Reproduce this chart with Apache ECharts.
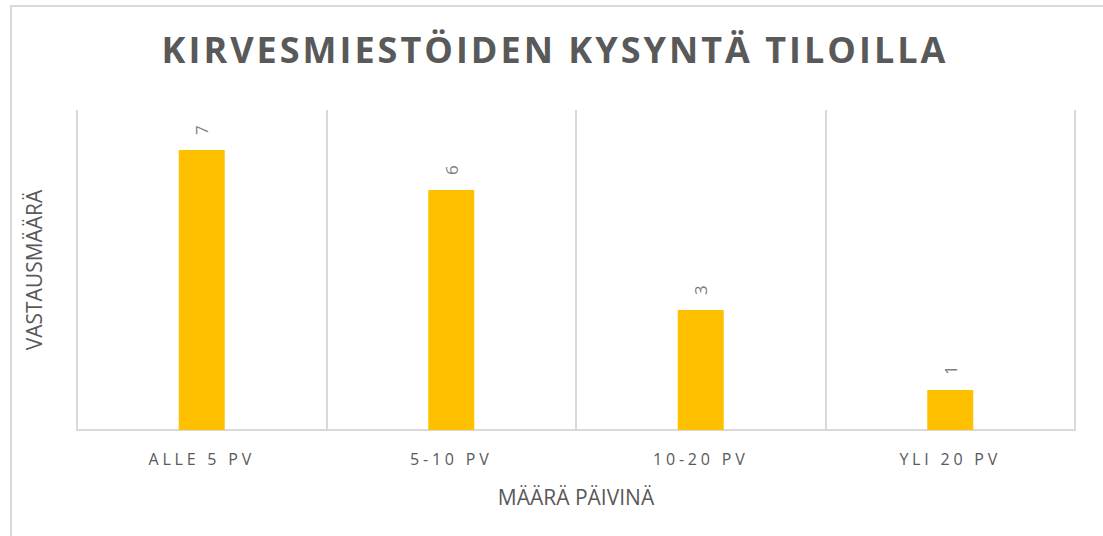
<!DOCTYPE html>
<html>
<head>
<meta charset="utf-8">
<style>
  html, body { margin: 0; padding: 0; background: #fff; }
  #frame {
    position: absolute; left: 10px; top: 5px; width: 1100px; height: 540px;
    border-left: 2px solid #d9d9d9; border-top: 2px solid #d9d9d9;
  }
  #chart { position: absolute; left: 0; top: 0; width: 1103px; height: 536px; }
  /* spaced caps for the title and category labels */
  #chart text[style*="bold"] { letter-spacing: 3px; }
  #chart text[style*="16px"] { letter-spacing: 3.8px; }
</style>
<script src="https://cdn.jsdelivr.net/npm/echarts@6/dist/echarts.min.js"></script>
</head>
<body>
<div id="frame"></div>
<div id="chart"></div>
<script>
const title = "KIRVESMIESTÖIDEN KYSYNTÄ TILOILLA";
const categories = ["ALLE 5 PV", "5-10 PV", "10-20 PV", "YLI 20 PV"];
const answers = [7, 6, 3, 1];
const xName = "MÄÄRÄ PÄIVINÄ";
const yName = "VASTAUSMÄÄRÄ";

const textColor = "#595959";
const chart = echarts.init(document.getElementById("chart"), null, { renderer: "svg" });

chart.setOption({
  animation: false,
  textStyle: { fontFamily: "Open Sans" },
  title: {
    text: title,
    left: 550,
    textAlign: "center",
    top: 26,
    textStyle: { fontSize: 36, fontWeight: "bold", color: textColor, fontFamily: "Open Sans" }
  },
  grid: { left: 77, right: 28, top: 110, bottom: 106 },
  xAxis: {
    type: "category",
    data: categories,
    name: xName,
    nameLocation: "middle",
    nameGap: 56,
    nameTextStyle: { fontSize: 21, color: textColor },
    axisLine: { lineStyle: { color: "#d9d9d9", width: 2 } },
    axisTick: { show: false },
    axisLabel: { fontSize: 16, color: textColor, margin: 21 },
    splitLine: { show: true, interval: 0, lineStyle: { color: "#d9d9d9", width: 2 } }
  },
  yAxis: {
    type: "value",
    min: 0,
    max: 8,
    name: yName,
    nameLocation: "middle",
    nameGap: 33,
    nameTextStyle: { fontSize: 21, color: textColor },
    axisLine: { show: false },
    axisTick: { show: false },
    axisLabel: { show: false },
    splitLine: { show: false }
  },
  series: [{
    type: "bar",
    data: answers,
    barWidth: 46,
    itemStyle: { color: "#ffc000" },
    label: {
      show: true,
      position: "top",
      rotate: 90,
      align: "left",
      verticalAlign: "middle",
      distance: 15,
      fontSize: 17,
      color: "#7f7f7f"
    }
  }]
});
</script>
</body>
</html>
